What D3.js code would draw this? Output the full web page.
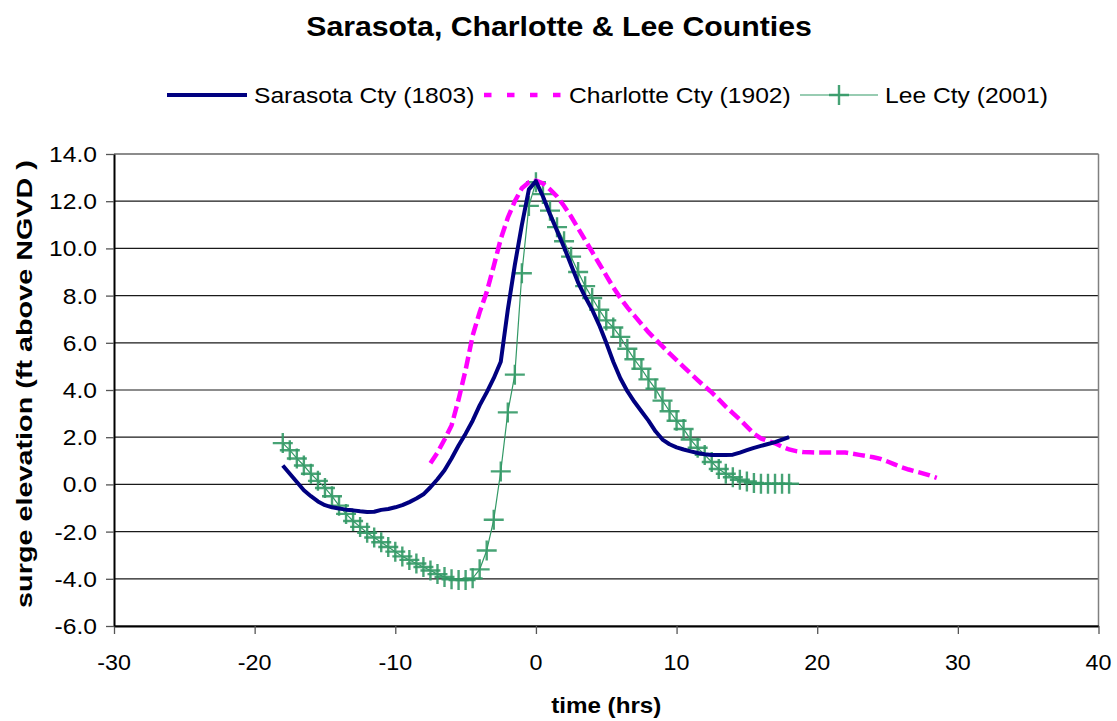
<!DOCTYPE html>
<html>
<head>
<meta charset="utf-8">
<script src="https://cdn.jsdelivr.net/npm/d3@7"></script>
<style>
  html, body { margin: 0; padding: 0; background: #fff; }
  svg { display: block; }
  text { font-family: "Liberation Sans", Arial, Helvetica, sans-serif; fill: #000; }
</style>
</head>
<body>
<svg id="chart" width="1117" height="721"></svg>
<script>
// ---------------- DATA ----------------
const chartTitle = "Sarasota, Charlotte & Lee Counties";
const xTitle = "time (hrs)";
const yTitle = "surge elevation (ft above NGVD )";
const seriesNames = ["Sarasota Cty (1803)", "Charlotte Cty (1902)", "Lee Cty (2001)"];
const xTicks = [-30, -20, -10, 0, 10, 20, 30, 40];
const yTicks = [-6, -4, -2, 0, 2, 4, 6, 8, 10, 12, 14];

// [time (hrs), surge elevation (ft)]
const sarasota = [
  [-18,0.8],[-17.5,0.45],[-17,0.1],[-16.5,-0.25],[-16,-0.5],[-15.5,-0.72],[-15,-0.88],[-14.5,-0.97],
  [-14,-1.02],[-13.5,-1.07],[-13,-1.1],[-12.5,-1.14],[-12,-1.17],[-11.5,-1.16],[-11,-1.08],[-10.5,-1.04],
  [-10,-0.97],[-9.5,-0.88],[-9,-0.75],[-8.5,-0.6],[-8,-0.42],[-7.5,-0.12],[-7,0.22],[-6.5,0.6],
  [-6,1.1],[-5.5,1.65],[-5,2.15],[-4.5,2.7],[-4,3.35],[-3.5,3.9],[-3,4.5],[-2.5,5.2],
  [-2,7.4],[-1.5,9.3],[-1,11.0],[-0.5,12.5],[0,12.85],[0.5,12.2],[1,11.45],[1.5,10.75],
  [2,10.05],[2.5,9.3],[3,8.55],[3.5,7.95],[4,7.4],[4.5,6.75],[5,6.0],[5.5,5.2],
  [6,4.5],[6.5,3.95],[7,3.5],[7.5,3.1],[8,2.7],[8.5,2.25],[9,1.9],[9.5,1.7],
  [10,1.57],[10.5,1.48],[11,1.4],[11.5,1.33],[12,1.28],[12.5,1.25],[13,1.25],[13.5,1.25],
  [14,1.26],[14.5,1.35],[15,1.45],[15.5,1.55],[16,1.63],[16.5,1.71],[17,1.79],[17.5,1.9],[18,2.0]
];

const charlotte = [
  [-7.5,0.9],[-7,1.35],[-6.5,1.9],[-6,2.5],[-5.5,3.6],[-5,4.85],[-4.5,6.3],[-4,7.3],
  [-3.5,8.15],[-3,9.25],[-2.5,10.4],[-2,11.3],[-1.5,12.0],[-1,12.55],[-0.5,12.8],[0,12.87],
  [0.5,12.75],[1,12.5],[1.5,12.2],[2,11.8],[2.5,11.35],[3,10.85],[3.5,10.35],[4,9.85],
  [4.5,9.35],[5,8.85],[5.5,8.35],[6,7.9],[6.5,7.5],[7,7.15],[7.5,6.8],[8,6.45],
  [8.5,6.15],[9,5.85],[9.5,5.55],[10,5.27],[10.5,4.98],[11,4.7],[11.5,4.42],[12,4.15],
  [12.5,3.9],[13,3.6],[13.5,3.3],[14,3.02],[14.5,2.75],[15,2.45],[15.5,2.15],[16,1.95],
  [16.5,1.84],[17,1.74],[17.5,1.6],[18,1.48],[18.5,1.41],[19,1.37],[19.5,1.36],[20,1.35],
  [20.5,1.35],[21,1.35],[21.5,1.35],[22,1.35],[22.5,1.3],[23,1.25],[23.5,1.2],[24,1.15],
  [24.5,1.08],[25,0.97],[25.5,0.85],[26,0.73],[26.5,0.63],[27,0.55],[27.5,0.47],[28,0.38],[28.5,0.28]
];

const lee = [
  [-18,1.75],[-17.5,1.45],[-17,1.1],[-16.5,0.8],[-16,0.45],[-15.5,0.15],[-15,-0.15],[-14.5,-0.5],
  [-14,-0.9],[-13.5,-1.25],[-13,-1.55],[-12.5,-1.8],[-12,-2.05],[-11.5,-2.25],[-11,-2.45],[-10.5,-2.65],
  [-10,-2.85],[-9.5,-3.05],[-9,-3.2],[-8.5,-3.35],[-8,-3.5],[-7.5,-3.65],[-7,-3.8],[-6.5,-3.92],
  [-6,-4.02],[-5.5,-4.05],[-5,-4.05],[-4.5,-3.98],[-4,-3.6],[-3.5,-2.8],[-3,-1.5],[-2.5,0.55],
  [-2,3.05],[-1.5,4.65],[-1,8.95],[-0.5,11.8],[0,12.8],[0.5,12.3],[1,11.6],[1.5,10.9],
  [2,10.3],[2.5,9.65],[3,9.0],[3.5,8.4],[4,7.9],[4.5,7.4],[5,6.95],[5.5,6.65],
  [6,6.25],[6.5,5.75],[7,5.3],[7.5,4.9],[8,4.45],[8.5,4.05],[9,3.55],[9.5,3.1],
  [10,2.7],[10.5,2.35],[11,1.9],[11.5,1.55],[12,1.25],[12.5,0.95],[13,0.65],[13.5,0.45],
  [14,0.3],[14.5,0.2],[15,0.12],[15.5,0.06],[16,0.03],[16.5,0.03],[17,0.03],[17.5,0.03],[18,0.03]
];

// ---------------- LAYOUT / STYLE ----------------
const W = 1117, H = 721;
const plot = { left: 114, right: 1098.5, top: 154, bottom: 626 };
const SX = 1.12; // horizontal text stretch of the reference rendering
const colors = { sarasota: "#000080", charlotte: "#FF00FF", lee: "#339966" };

const svg = d3.select("#chart");

const x = d3.scaleLinear().domain([-30, 40]).range([plot.left, plot.right]);
const y = d3.scaleLinear().domain([-6, 14]).range([plot.bottom, plot.top]);

function stretchedText(parent, tx, ty, str, opts) {
  const g = parent.append("g")
    .attr("transform", `translate(${tx},${ty})` + (opts.rotate ? ` rotate(${opts.rotate})` : "") + ` scale(${opts.sx || SX},1)`);
  g.append("text")
    .attr("x", 0).attr("y", 0)
    .attr("text-anchor", opts.anchor || "start")
    .style("font-size", opts.size + "px")
    .style("font-weight", opts.bold ? "bold" : "normal")
    .text(str);
  return g;
}

// gridlines
svg.append("g").selectAll("line").data(yTicks).join("line")
  .attr("x1", plot.left).attr("x2", plot.right)
  .attr("y1", d => y(d)).attr("y2", d => y(d))
  .attr("stroke", "#1a1a1a").attr("stroke-width", 1.2);

// plot area right border
svg.append("line")
  .attr("x1", plot.right).attr("x2", plot.right)
  .attr("y1", plot.top).attr("y2", plot.bottom)
  .attr("stroke", "#808080").attr("stroke-width", 1.5);

// axes (lines and tick marks)
const xAxis = svg.append("g").attr("transform", `translate(0,${plot.bottom})`)
  .call(d3.axisBottom(x).tickValues(xTicks).tickSize(8).tickSizeOuter(0).tickFormat(""));
const yAxis = svg.append("g").attr("transform", `translate(${plot.left},0)`)
  .call(d3.axisLeft(y).tickValues(yTicks).tickSize(8).tickSizeOuter(0).tickFormat(""));
[xAxis, yAxis].forEach(a => {
  a.select(".domain").attr("stroke", "#000").attr("stroke-width", 2);
  a.selectAll(".tick line").attr("stroke", "#555").attr("stroke-width", 1.3);
});

// tick labels
const yLab = svg.append("g");
yTicks.forEach(t => stretchedText(yLab, 97, y(t) + 8, t.toFixed(1), { size: 22, anchor: "end" }));
const xLab = svg.append("g");
xTicks.forEach(t => stretchedText(xLab, x(t), 670, String(t), { size: 22, anchor: "middle", sx: 1.06 }));

// titles
stretchedText(svg, 559, 35.5, chartTitle, { size: 28, bold: true, anchor: "middle", sx: 1.08 });
stretchedText(svg, (plot.left + plot.right) / 2, 713, xTitle, { size: 22, bold: true, anchor: "middle", sx: 1.1 });
stretchedText(svg, 32, 384, yTitle, { size: 22.5, bold: true, anchor: "middle", rotate: -90, sx: 1.28 });

// series
const line = d3.line().x(d => x(d[0])).y(d => y(d[1]));
const clip = svg.append("g");

clip.append("path").datum(lee).attr("d", line)
  .attr("fill", "none").attr("stroke", colors.lee).attr("stroke-width", 1.2);

const plus = (sel, s) => sel.append("path")
  .attr("d", `M${-s},0H${s}M0,${-s}V${s}`)
  .attr("stroke", colors.lee).attr("stroke-width", 2.4).attr("fill", "none").attr("opacity", 0.9);

clip.append("g").selectAll("g").data(lee).join("g")
  .attr("transform", d => `translate(${x(d[0])},${y(d[1])})`)
  .each(function () { plus(d3.select(this), 10); });

clip.append("path").datum(charlotte).attr("d", line)
  .attr("fill", "none").attr("stroke", colors.charlotte).attr("stroke-width", 4.5)
  .attr("stroke-dasharray", "12,5");

clip.append("path").datum(sarasota).attr("d", line)
  .attr("fill", "none").attr("stroke", colors.sarasota).attr("stroke-width", 4)
  .attr("stroke-linejoin", "round");

// legend
const lg = svg.append("g");
const ly = 95;
lg.append("line").attr("x1", 167).attr("x2", 247).attr("y1", ly).attr("y2", ly)
  .attr("stroke", colors.sarasota).attr("stroke-width", 4);
stretchedText(lg, 254, ly + 8, seriesNames[0], { size: 22 });
lg.append("line").attr("x1", 484).attr("x2", 561).attr("y1", ly).attr("y2", ly)
  .attr("stroke", colors.charlotte).attr("stroke-width", 4.5).attr("stroke-dasharray", "7.5,15.5");
stretchedText(lg, 569, ly + 8, seriesNames[1], { size: 22 });
lg.append("line").attr("x1", 800).attr("x2", 878).attr("y1", ly).attr("y2", ly)
  .attr("stroke", colors.lee).attr("stroke-width", 1.2);
plus(lg.append("g").attr("transform", `translate(839,${ly})`), 10);
stretchedText(lg, 885, ly + 8, seriesNames[2], { size: 22 });
</script>
</body>
</html>
